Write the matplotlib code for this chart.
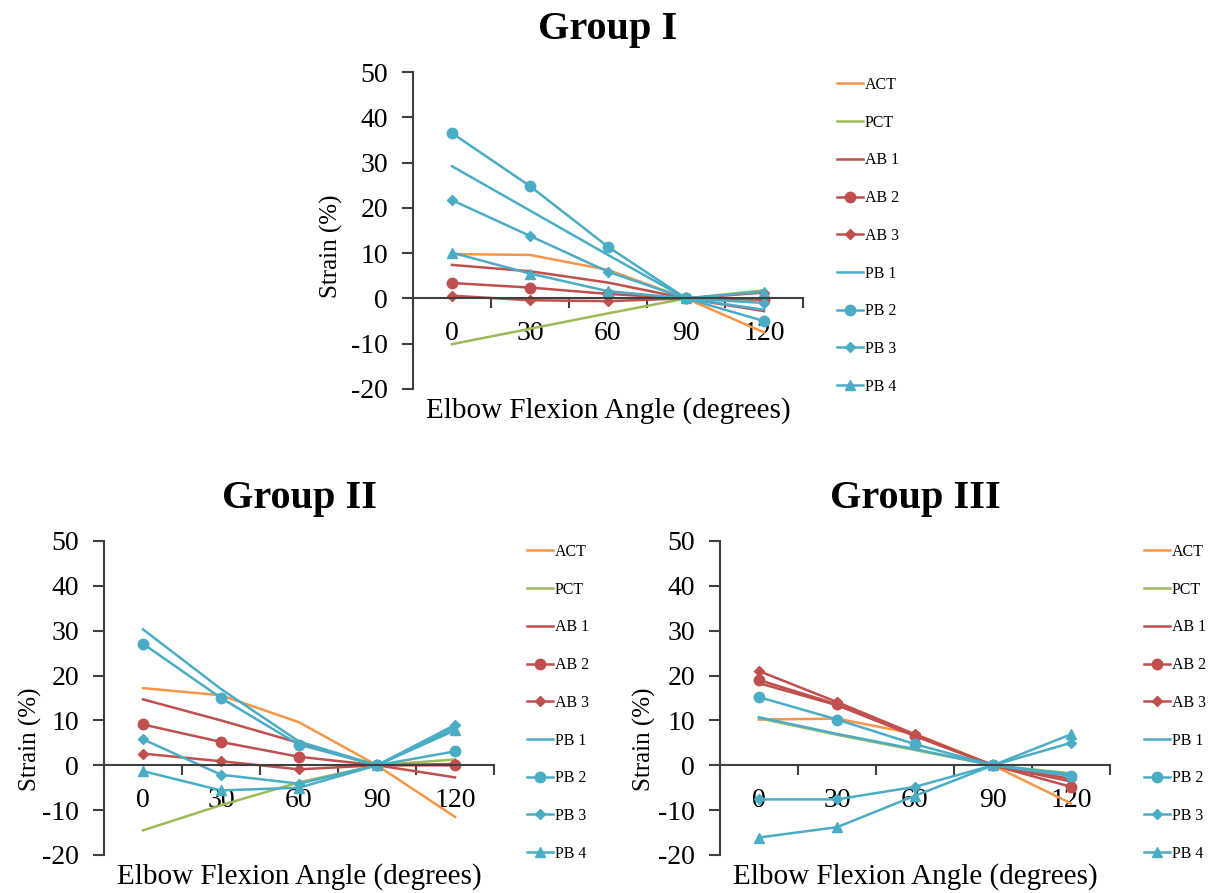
import numpy as np
import matplotlib
matplotlib.use("Agg")
import matplotlib.pyplot as plt

plt.rcParams['font.family'] = ['Liberation Serif', 'DejaVu Serif']
plt.rcParams['axes.unicode_minus'] = False

angles = ['0', '30', '60', '90', '120']
series = ['ACT', 'PCT', 'AB 1', 'AB 2', 'AB 3', 'PB 1', 'PB 2', 'PB 3', 'PB 4']

# strain values (%), one list per series
group1 = {
    'ACT':  [9.8, 9.6, 6.3, 0, -7.5],
    'PCT':  [-10.1, -6.7, -3.3, 0, 1.8],
    'AB 1': [7.4, 6.0, 3.5, 0, -2.8],
    'AB 2': [3.4, 2.4, 1.0, 0, -0.3],
    'AB 3': [0.6, -0.4, -0.6, 0, 1.3],
    'PB 1': [29.2, 19.4, 9.6, 0, -2.5],
    'PB 2': [36.5, 24.8, 11.4, 0, -5.0],
    'PB 3': [21.7, 13.8, 5.9, 0, -1.0],
    'PB 4': [10.1, 5.5, 1.6, 0, 1.5],
}
group2 = {
    'ACT':  [17.2, 15.6, 9.6, 0, -11.5],
    'PCT':  [-14.5, -8.9, -3.8, 0, 1.3],
    'AB 1': [14.7, 10.0, 5.0, 0, -2.7],
    'AB 2': [9.1, 5.2, 1.9, 0, 0.0],
    'AB 3': [2.6, 0.9, -0.9, 0, 0.3],
    'PB 1': [30.3, 17.0, 5.3, 0, 8.4],
    'PB 2': [27.1, 15.0, 4.6, 0, 3.1],
    'PB 3': [5.8, -2.1, -4.1, 0, 9.0],
    'PB 4': [-1.3, -5.6, -5.0, 0, 7.8],
}
group3 = {
    'ACT':  [10.2, 10.4, 7.0, 0, -8.5],
    'PCT':  [10.5, 6.8, 3.4, 0, -1.8],
    'AB 1': [18.3, 13.4, 6.5, 0, -3.6],
    'AB 2': [19.0, 13.6, 6.6, 0, -4.8],
    'AB 3': [21.0, 14.1, 6.9, 0, -3.0],
    'PB 1': [10.7, 7.0, 3.6, 0, -2.0],
    'PB 2': [15.2, 10.2, 4.7, 0, -2.4],
    'PB 3': [-7.6, -7.6, -4.8, 0, 5.0],
    'PB 4': [-16.1, -13.8, -6.8, 0, 6.9],
}

orange = '#F79646'
green = '#9BBB59'
red = '#C0504D'
blue = '#4BACC6'
style = {
    'ACT':  (orange, None, 0),
    'PCT':  (green, None, 0),
    'AB 1': (red, None, 0),
    'AB 2': (red, 'o', 7.5),
    'AB 3': (red, 'D', 5),
    'PB 1': (blue, None, 0),
    'PB 2': (blue, 'o', 7.5),
    'PB 3': (blue, 'D', 5),
    'PB 4': (blue, '^', 7),
}

fig = plt.figure(figsize=(12.11, 8.93), dpi=100)
W, H = 1211, 893


def panel(data, left_px, top_px, bottom_px, title, leg_x, leg_y, ylab_xy):
    ax = fig.add_axes([left_px / W, 1 - bottom_px / H, 390 / W, (bottom_px - top_px) / H])
    x = np.arange(len(angles))
    for s in series:
        c, m, ms = style[s]
        ax.plot(x, data[s], color=c, lw=1.8, marker=m, markersize=ms, label=s)
    ax.set_xlim(-0.5, len(angles) - 0.5)
    ax.set_ylim(-20, 50)
    ax.set_yticks(np.arange(-20, 51, 10))
    ax.set_xticks(x)
    ax.set_xticklabels(angles)
    ax.set_xticks(np.arange(-0.5, len(angles)), minor=True)
    ax.spines['top'].set_visible(False)
    ax.spines['right'].set_visible(False)
    ax.spines['bottom'].set_position(('data', 0))
    for sp in ('left', 'bottom'):
        ax.spines[sp].set_color('#404040')
        ax.spines[sp].set_linewidth(1.5)
    ax.tick_params(axis='x', which='major', length=0, labelsize=20, pad=16)
    ax.tick_params(axis='x', which='minor', length=7, width=1.5, color='#404040', direction='out')
    ax.tick_params(axis='y', length=8, width=1.5, color='#404040', labelsize=20, pad=10)
    ax.set_ylabel('Strain (%)', fontsize=18)
    ax.yaxis.set_label_coords(*ylab_xy)
    ax.set_xlabel('Elbow Flexion Angle (degrees)', fontsize=21)
    ax.xaxis.set_label_coords(0.5, -0.026)
    ax.set_title(title, fontsize=29, fontweight='bold', pad=24)
    ax.legend(loc='upper left', bbox_to_anchor=(leg_x / W, 1 - leg_y / H),
              bbox_transform=fig.transFigure, frameon=False, fontsize=11.5,
              borderpad=0, borderaxespad=0, labelspacing=1.36,
              handlelength=1.6, handletextpad=0.15)
    return ax


panel(group1, 413, 72, 389, 'Group I', 837, 77, (-0.18, 0.45))
panel(group2, 104, 541, 855, 'Group II', 527, 544, (-0.16, 0.37))
panel(group3, 720, 541, 855, 'Group III', 1144, 544, (-0.165, 0.37))

fig.savefig('out.png', dpi=100)
